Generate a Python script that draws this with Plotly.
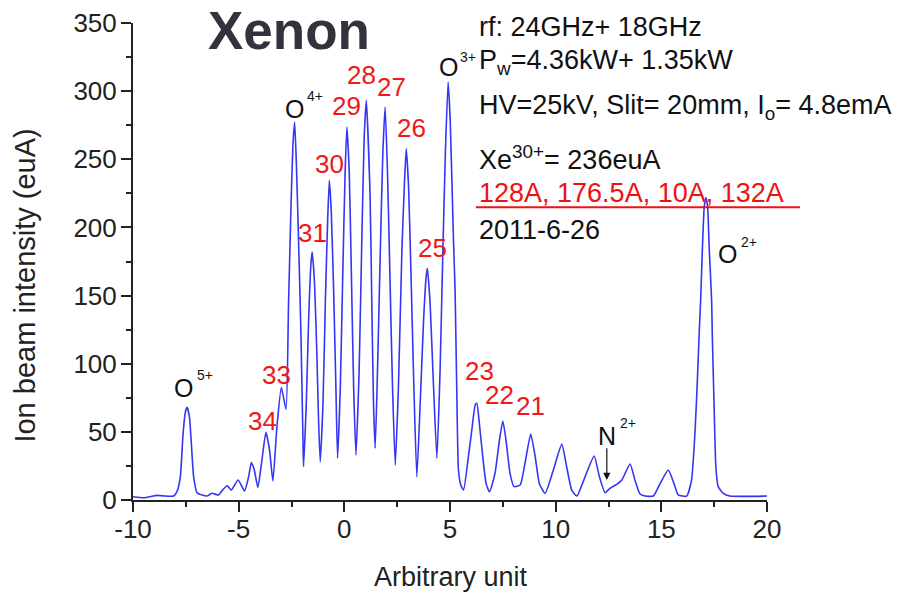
import plotly.graph_objects as go

# ---- data ----
x_vals = [-10.0, -9.49, -8.86, -8.55, -8.08, -7.92, -7.76, -7.63, -7.52, -7.44, -7.33, -7.24, -7.13, -6.97,
          -6.73, -6.50, -6.26, -5.95, -5.79, -5.55, -5.35, -5.03, -4.72, -4.53, -4.40, -4.26, -4.09, -3.90,
          -3.71, -3.54, -3.38, -3.19, -2.98, -2.76, -2.64, -2.52, -2.43, -2.35, -2.27, -2.17, -2.05, -1.96,
          -1.93, -1.80, -1.69, -1.58, -1.52, -1.41, -1.30, -1.22, -1.14, -1.01, -0.90, -0.79, -0.71, -0.62,
          -0.51, -0.40, -0.32, -0.19, -0.07, 0.04, 0.12, 0.23, 0.33, 0.44, 0.55, 0.70, 0.83, 0.94, 1.04,
          1.22, 1.30, 1.38, 1.46, 1.57, 1.70, 1.82, 1.93, 2.04, 2.17, 2.28, 2.41, 2.56, 2.72, 2.85, 2.93,
          3.04, 3.15, 3.27, 3.43, 3.59, 3.75, 3.87, 3.93, 4.06, 4.19, 4.38, 4.53, 4.66, 4.78, 4.91, 5.01,
          5.16, 5.24, 5.32, 5.40, 5.51, 5.64, 5.87, 6.03, 6.19, 6.27, 6.39, 6.55, 6.71, 6.87, 7.13, 7.34,
          7.50, 7.65, 7.84, 8.03, 8.32, 8.55, 8.82, 9.03, 9.23, 9.50, 9.89, 10.29, 10.52, 10.76, 11.00,
          11.39, 11.82, 12.07, 12.34, 12.57, 12.89, 13.13, 13.52, 13.75, 13.99, 14.23, 14.62, 14.94, 15.33,
          15.60, 15.80, 16.20, 16.43, 16.59, 16.70, 16.79, 16.86, 16.94, 17.03, 17.11, 17.19, 17.27, 17.38,
          17.41, 17.49, 17.58, 17.69, 17.93, 18.24, 20.0]
y_vals = [2.4, 1.7, 3.4, 3.0, 2.9, 6.1, 17, 49, 64.7, 68, 61, 41.6, 17, 5.4,
          3.7, 2.9, 4.9, 3.7, 6.8, 10.5, 7.3, 14.7, 6.6, 17, 27.4, 22, 9.3, 29.3,
          49.6, 36.7, 14, 53.7, 82.6, 66.5, 144, 217.5, 261.5, 277.4, 247, 193, 120, 46,
          24.4, 71, 132, 173.5, 182, 159, 107.5, 58.7, 28, 71, 144, 205, 234.6, 212.6,
          156, 83, 30.6, 83, 168.6, 242, 273.7, 242, 168.6, 83, 33, 95, 193, 266, 293.3,
          222, 144, 71, 38, 95, 181, 254, 288.4, 242, 156, 83, 25.7, 83, 181, 234.6, 257.8,
          229.7, 168.6, 95, 17, 71, 132, 163.7, 170, 144, 95, 30.6, 95, 181, 254, 306.7, 278.6,
          193, 154, 80.7, 22, 11, 7.3, 31.8, 51, 69.7, 71, 56, 31.8, 12, 6, 19.6, 44,
          58, 44, 19.6, 9.8, 11, 27, 48.4, 31.8, 12, 4.9, 22, 41, 24.4, 7.3, 2.9,
          17, 32.3, 17, 5.4, 8.6, 11.5, 14.7, 26.4, 14.7, 4.4, 2.9, 2.9, 12, 22,
          12, 3.7, 2.9, 14.7, 49, 85.6, 122, 146.6, 183, 215, 222, 215, 183, 146.6,
          122, 73, 24.4, 9.8, 4.9, 2.9, 2.9]

x_ticks = [-10, -5, 0, 5, 10, 15, 20]
x_tick_labels = ["-10", "-5", "0", "5", "10", "15", "20"]
y_ticks = [0, 50, 100, 150, 200, 250, 300, 350]

xe_labels = ["34", "33", "31", "30", "29", "28", "27", "26", "25", "23", "22", "21"]
xe_label_x = [-3.88, -3.22, -1.53, -0.71, 0.12, 0.83, 2.25, 3.20, 4.18, 6.40, 7.33, 8.82]
xe_label_y = [58.2, 91.7, 196.2, 246.4, 289.1, 311.9, 303.1, 273.2, 185.2, 94.4, 77.0, 69.1]

ion_names = ["O", "O", "O", "O", "N"]
ion_charges = ["5+", "4+", "3+", "2+", "2+"]
ion_x = [-7.62, -2.36, 4.95, 18.13, 12.44]
ion_y = [82.5, 286.6, 317.4, 180.2, 46.7]
charge_x = [-6.58, -1.38, 5.87, 19.15, 13.44]
charge_y = [91.7, 296.8, 325.2, 189.4, 56.2]

info_lines = ["rf: 24GHz+ 18GHz",
              "P<sub>w</sub>=4.36kW+ 1.35kW",
              "HV=25kV, Slit= 20mm, I<sub>o</sub>= 4.8emA",
              "Xe<sup>30+</sup>= 236euA",
              "128A, 176.5A, 10A, 132A",
              "2011-6-26"]
info_colors = ["#111111", "#111111", "#111111", "#111111", "#ee1111", "#111111"]
info_y = [0.991, 0.9177, 0.8234, 0.7165, 0.6432, 0.5657]

FONT = "Liberation Sans, Arial, sans-serif"

fig = go.Figure()
fig.add_trace(go.Scatter(x=x_vals, y=y_vals, mode="lines",
                         line=dict(color="#3535f5", width=1.6, shape="spline", smoothing=0.5),
                         hoverinfo="skip"))

ann = []
for t, xx, yy in zip(xe_labels, xe_label_x, xe_label_y):
    ann.append(dict(x=xx, y=yy, xref="x", yref="y", text=t, showarrow=False,
                    xanchor="center", yanchor="middle",
                    font=dict(family=FONT, size=26, color="#f01818")))
for t, xx, yy in zip(ion_names, ion_x, ion_y):
    ann.append(dict(x=xx, y=yy, xref="x", yref="y", text=t, showarrow=False,
                    xanchor="center", yanchor="middle",
                    font=dict(family=FONT, size=25, color="#111111")))
for t, xx, yy in zip(ion_charges, charge_x, charge_y):
    ann.append(dict(x=xx, y=yy, xref="x", yref="y", text=t, showarrow=False,
                    xanchor="center", yanchor="middle",
                    font=dict(family=FONT, size=14, color="#111111")))
# N2+ arrow
ann.append(dict(x=12.42, y=14.7, ax=12.42, ay=39.1, xref="x", yref="y", axref="x", ayref="y",
                text="", showarrow=True, arrowhead=2, arrowsize=1.2, arrowwidth=1.2, arrowcolor="#111111"))
for t, c, yy in zip(info_lines, info_colors, info_y):
    ann.append(dict(x=0.5429, y=yy, xref="paper", yref="paper", xanchor="left", yanchor="middle",
                    text=t, showarrow=False, font=dict(family=FONT, size=27, color=c)))
ann.append(dict(x=0.2465, y=0.9837, xref="paper", yref="paper", text="<b>Xenon</b>", showarrow=False,
                xanchor="center", yanchor="middle",
                font=dict(family=FONT, size=53, color="#33333d")))
ann.append(dict(x=-0.1696, y=0.4505, xref="paper", yref="paper", text="Ion beam intensity (euA)",
                xanchor="center", yanchor="middle",
                textangle=-90, showarrow=False, font=dict(family=FONT, size=29, color="#222222")))
ann.append(dict(x=0.5016, y=-0.1613, xref="paper", yref="paper", text="Arbitrary unit",
                xanchor="center", yanchor="middle",
                showarrow=False, font=dict(family=FONT, size=27, color="#222222")))

fig.update_layout(
    width=911, height=586,
    margin=dict(l=125, r=152, t=15, b=94, autoexpand=False),
    paper_bgcolor="white", plot_bgcolor="white",
    showlegend=False,
    annotations=ann,
    shapes=[dict(type="line", xref="paper", yref="paper", x0=0.5408, x1=1.052, y0=0.6139, y1=0.6139,
                 line=dict(color="#ee1111", width=2))],
)
fig.update_xaxes(range=[-10, 20], tickvals=x_ticks, ticktext=x_tick_labels, showgrid=False, zeroline=False,
                 showline=True, linecolor="#222222", linewidth=2,
                 ticks="outside", ticklen=10, tickwidth=2, tickcolor="#222222",
                 minor=dict(dtick=2.5, tick0=-10, ticks="outside", ticklen=5, tickwidth=2, tickcolor="#222222"),
                 tickfont=dict(family=FONT, size=26, color="#222222"), ticklabelstandoff=-5)
fig.update_yaxes(range=[0, 350], tickvals=y_ticks, showgrid=False, zeroline=False,
                 showline=True, linecolor="#222222", linewidth=2,
                 ticks="outside", ticklen=10, tickwidth=2, tickcolor="#222222",
                 minor=dict(dtick=25, tick0=0, ticks="outside", ticklen=5, tickwidth=2, tickcolor="#222222"),
                 tickfont=dict(family=FONT, size=26, color="#222222"), ticklabelstandoff=-1)

fig.write_html("out.html")
